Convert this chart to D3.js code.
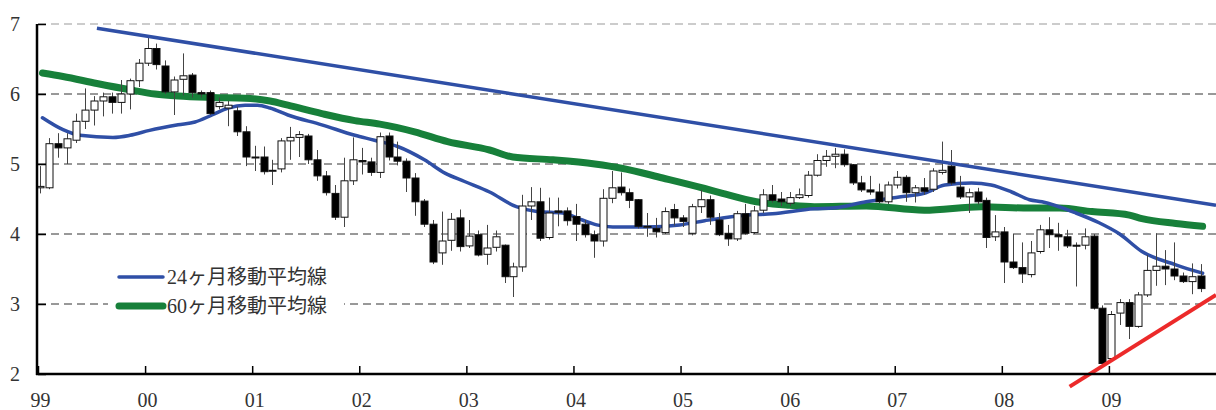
<!DOCTYPE html>
<html>
<head>
<meta charset="utf-8">
<script src="https://cdn.jsdelivr.net/npm/d3@7"></script>
<style>
  body { margin: 0; background: #fff; }
  svg { display: block; }
  text { font-family: "Liberation Serif", "Noto Sans CJK JP", serif; fill: #333; }
</style>
</head>
<body>
<div id="container"></div>
<script>
// monthly candles, Jan 1999 .. Nov 2009
var opens = [4.66,4.66,5.29,5.23,5.34,5.61,5.77,5.90,5.96,5.88,6.00,6.19,6.44,6.65,6.40,6.03,6.21,6.27,6.02,6.02,
  5.82,5.80,5.76,5.46,5.10,5.10,4.90,4.93,5.33,5.38,5.40,5.06,4.83,4.58,4.24,4.76,5.05,5.03,4.88,5.40,
  5.10,5.04,4.80,4.47,4.14,3.73,3.91,4.23,3.83,3.99,3.71,3.81,3.84,3.39,3.53,4.40,4.46,3.95,4.33,4.33,
  4.25,4.14,3.99,3.90,4.51,4.67,4.59,4.49,4.10,4.08,4.02,4.35,4.23,4.01,4.39,4.49,4.20,4.01,3.93,4.29,
  4.02,4.34,4.56,4.50,4.44,4.52,4.55,4.84,5.05,5.11,5.14,4.99,4.73,4.63,4.60,4.46,4.70,4.81,4.59,4.66,
  4.64,4.88,4.97,4.67,4.53,4.60,4.48,3.96,4.03,3.60,3.52,3.42,3.75,4.06,3.99,3.96,3.84,3.84,3.97,2.94,
  2.22,2.87,3.02,2.68,3.13,3.48,3.54,3.50,3.40,3.32,3.40];
var highs = [4.97,5.37,5.44,5.44,5.72,6.08,5.97,6.02,6.02,6.20,6.22,6.50,6.80,6.72,6.48,6.25,6.58,6.30,6.05,6.05,
  5.95,5.90,5.82,5.54,5.26,5.25,5.06,5.37,5.53,5.47,5.43,5.20,4.90,4.70,5.09,5.38,5.23,5.09,5.45,5.45,
  5.32,5.08,4.87,4.50,4.20,4.32,4.30,4.35,4.20,4.05,4.13,4.05,3.85,3.59,4.56,4.67,4.66,4.52,4.52,4.38,
  4.43,4.20,4.05,4.64,4.90,4.88,4.65,4.50,4.30,4.23,4.38,4.43,4.27,4.43,4.63,4.55,4.30,4.13,4.33,4.43,
  4.40,4.64,4.70,4.60,4.60,4.65,4.90,5.14,5.20,5.23,5.21,5.00,4.83,4.83,4.72,4.75,4.90,4.84,4.70,4.80,
  4.94,5.32,5.20,4.83,4.65,4.66,4.52,4.27,4.10,4.00,3.88,3.90,4.13,4.24,4.16,4.06,3.88,4.08,4.00,2.98,
  2.90,3.07,3.07,3.17,3.70,4.01,3.77,3.88,3.45,3.58,3.57];
var lows = [4.58,4.64,5.09,5.00,5.30,5.50,5.55,5.68,5.72,5.72,5.78,6.10,6.40,6.35,6.00,5.70,5.98,5.95,5.95,5.70,
  5.78,5.54,5.40,4.97,4.90,4.85,4.70,4.88,5.06,5.10,5.00,4.76,4.55,4.20,4.10,4.70,4.85,4.83,4.80,5.05,
  4.98,4.60,4.26,4.10,3.57,3.56,3.76,3.75,3.80,3.68,3.56,3.75,3.30,3.10,3.46,4.20,3.90,3.92,4.11,4.12,
  3.90,3.95,3.66,3.82,4.44,4.55,4.37,4.08,3.96,3.95,4.00,4.12,4.10,3.98,4.30,4.13,3.97,3.83,3.90,3.99,
  4.00,4.30,4.45,4.40,4.40,4.50,4.52,4.82,4.96,4.94,4.96,4.70,4.60,4.56,4.44,4.43,4.65,4.46,4.45,4.56,
  4.60,4.85,4.70,4.50,4.30,4.42,3.80,3.90,3.30,3.50,3.30,3.38,3.72,3.80,3.76,3.80,3.25,3.78,2.92,2.10,
  2.20,2.70,2.50,2.66,3.10,3.26,3.27,3.34,3.30,3.14,3.17];
var closes = [4.68,5.29,5.23,5.36,5.61,5.77,5.90,5.96,5.88,6.00,6.19,6.44,6.65,6.42,6.03,6.20,6.26,6.02,6.00,5.72,
  5.88,5.84,5.46,5.10,5.09,4.89,4.91,5.33,5.38,5.42,5.06,4.83,4.59,4.24,4.76,5.06,5.03,4.88,5.39,5.10,
  5.04,4.80,4.46,4.14,3.60,3.90,4.21,3.82,3.97,3.70,3.80,3.96,3.39,3.53,4.40,4.46,3.94,4.30,4.31,4.19,
  4.14,3.99,3.90,4.51,4.66,4.59,4.48,4.11,4.11,4.03,4.32,4.23,4.18,4.39,4.49,4.24,3.99,3.93,4.29,4.01,
  4.33,4.56,4.48,4.46,4.52,4.56,4.84,5.05,5.11,5.14,4.99,4.73,4.63,4.60,4.46,4.70,4.81,4.59,4.66,4.61,
  4.90,4.91,4.73,4.53,4.59,4.46,3.95,4.03,3.60,3.52,3.43,3.73,4.06,3.99,3.96,3.83,3.83,3.96,2.94,2.15,
  2.85,3.02,2.68,3.13,3.48,3.54,3.50,3.40,3.32,3.39,3.22];

// moving averages (month index, value)
var ma24Month = [0,2.3,4.2,7.9,9.8,12,15.2,17.1,19,20.8,22.7,24.1,25.5,27.5,31.3,35,37.2,39.8,42.8,45.1,47.3,50.1,53.1,55.4,58.3,60.5,62.1,63.9,67.7,71.4,74.2,76.2,78.1,81.8,86.5,88.5,92.3,96,98.8,101.1,104.1,106.3,108.6,110.6,112,115.8,118.4,120.7,123.2,127,130];
var ma24Value = [5.66,5.49,5.41,5.38,5.41,5.48,5.56,5.60,5.70,5.80,5.84,5.84,5.80,5.70,5.56,5.41,5.34,5.25,5.06,4.87,4.75,4.60,4.39,4.32,4.30,4.20,4.13,4.10,4.10,4.13,4.19,4.23,4.26,4.29,4.36,4.37,4.46,4.53,4.58,4.70,4.73,4.70,4.60,4.49,4.46,4.30,4.16,4.00,3.75,3.56,3.44];
var ma60Month = [0,2.3,6.1,9.8,12.6,15.2,19,22.7,25.5,27.5,31.3,35,37.8,41.7,45.4,50.1,52.7,57.2,61.9,64.9,69.5,74.2,76.2,80,83.7,86.5,92.3,98.8,105.2,110.6,114,117.6,121.8,123.2,127,130];
var ma60Value = [6.30,6.25,6.15,6.06,6.00,5.97,5.95,5.94,5.90,5.84,5.72,5.62,5.57,5.46,5.32,5.20,5.10,5.06,5.00,4.94,4.80,4.65,4.58,4.46,4.41,4.39,4.40,4.34,4.39,4.37,4.37,4.32,4.27,4.22,4.15,4.11];

// trend lines (month position, value)
var topTrendMonth = [6.6, 132];
var topTrendValue = [6.94, 4.41];
var lowTrendMonth = [115.6, 132];
var lowTrendValue = [1.82, 3.13];

var yearLabels = ["99","00","01","02","03","04","05","06","07","08","09"];
var yTicks = [2,3,4,5,6,7];
var legendNames = ["24ヶ月移動平均線", "60ヶ月移動平均線"];

var width = 1216, height = 410;
var margin = { top: 24, right: 0, bottom: 36, left: 38 };

var svg = d3.select("#container").append("svg")
    .attr("width", width)
    .attr("height", height);

svg.append("rect").attr("width", width).attr("height", height).attr("fill", "#fff");

var x = d3.scaleLinear().domain([0, 132]).range([margin.left, width - margin.right]);
var y = d3.scaleLinear().domain([2, 7]).range([height - margin.bottom, margin.top]);

// grid
svg.append("g")
    .selectAll("line")
    .data(yTicks.filter(function (d) { return d > 2; }))
    .enter().append("line")
    .attr("x1", margin.left).attr("x2", width)
    .attr("y1", function (d) { return y(d); })
    .attr("y2", function (d) { return y(d); })
    .attr("stroke", function (d) { return d == 7 ? "#999" : "#333"; })
    .attr("stroke-width", 1)
    .attr("stroke-dasharray", "8,5");

// moving averages
var line = d3.line()
    .x(function (d) { return x(d[0] + 0.5); })
    .y(function (d) { return y(d[1]); })
    .curve(d3.curveMonotoneX);

svg.append("path")
    .datum(d3.zip(ma60Month, ma60Value))
    .attr("d", line)
    .attr("fill", "none")
    .attr("stroke", "#17803a")
    .attr("stroke-width", 7)
    .attr("stroke-linecap", "round");

svg.append("path")
    .datum(d3.zip(ma24Month, ma24Value))
    .attr("d", line)
    .attr("fill", "none")
    .attr("stroke", "#2f4fa6")
    .attr("stroke-width", 3.5)
    .attr("stroke-linecap", "round");

// candles
var candles = d3.range(opens.length).map(function (i) {
    return { i: i, o: opens[i], h: highs[i], l: lows[i], c: closes[i] };
});
var bodyW = 7;
var g = svg.append("g").selectAll("g").data(candles).enter().append("g");

g.append("line")
    .attr("x1", function (d) { return Math.round(x(d.i + 0.5)) - 1.5; })
    .attr("x2", function (d) { return Math.round(x(d.i + 0.5)) - 1.5; })
    .attr("y1", function (d) { return y(d.h); })
    .attr("y2", function (d) { return y(d.l); })
    .attr("stroke", "#444")
    .attr("stroke-width", 1);

g.append("rect")
    .attr("x", function (d) { return Math.round(x(d.i + 0.5)) - 1.5 - bodyW / 2; })
    .attr("width", bodyW)
    .attr("y", function (d) { return y(Math.max(d.o, d.c)); })
    .attr("height", function (d) { return Math.max(1, Math.abs(y(d.o) - y(d.c))); })
    .attr("fill", function (d) { return d.c < d.o ? "#000" : "#fff"; })
    .attr("stroke", "#111")
    .attr("stroke-width", 1);

// trend lines
var tline = d3.line()
    .x(function (d) { return x(d[0]); })
    .y(function (d) { return y(d[1]); });

svg.append("path")
    .datum(d3.zip(topTrendMonth, topTrendValue))
    .attr("d", tline)
    .attr("stroke", "#2f4fa6")
    .attr("stroke-width", 3.5)
    .attr("fill", "none");

svg.append("path")
    .datum(d3.zip(lowTrendMonth, lowTrendValue))
    .attr("d", tline)
    .attr("stroke", "#ec2a2a")
    .attr("stroke-width", 4)
    .attr("fill", "none");

// axes
var xAxis = d3.axisBottom(x)
    .tickValues(d3.range(0, 132, 12))
    .tickSize(-8)
    .tickPadding(19)
    .tickFormat(function (d, i) { return yearLabels[i]; });

var gx = svg.append("g")
    .attr("transform", "translate(0," + y(2) + ")")
    .call(xAxis);
gx.select(".domain").remove();
gx.selectAll("line").attr("stroke", "#000").attr("stroke-width", 1.5);
gx.selectAll("text").style("font-size", "20px").attr("x", 2);

var yAxis = d3.axisLeft(y)
    .tickValues(yTicks)
    .tickSize(-8)
    .tickPadding(18)
    .tickFormat(d3.format("d"));

var gy = svg.append("g")
    .attr("transform", "translate(" + margin.left + ",0)")
    .call(yAxis);
gy.select(".domain").remove();
gy.selectAll("line").attr("stroke", "#000").attr("stroke-width", 1.5);
gy.selectAll("text").style("font-size", "20px");

svg.append("line")
    .attr("x1", margin.left - 1).attr("x2", margin.left - 1)
    .attr("y1", y(7)).attr("y2", y(2) + 1)
    .attr("stroke", "#000").attr("stroke-width", 2.5);
svg.append("line")
    .attr("x1", margin.left - 2).attr("x2", width)
    .attr("y1", y(2)).attr("y2", y(2))
    .attr("stroke", "#000").attr("stroke-width", 2.5);

// legend
var legend = svg.append("g");
legend.append("rect")
    .attr("x", 108).attr("y", 262).attr("width", 236).attr("height", 58)
    .attr("fill", "#fff");

var legendColors = ["#2f4fa6", "#17803a"];
var legendWidths = [3.5, 7];
legendNames.forEach(function (name, i) {
    var ly = 277 + i * 29;
    legend.append("line")
        .attr("x1", 119).attr("x2", 163)
        .attr("y1", ly).attr("y2", ly)
        .attr("stroke", legendColors[i])
        .attr("stroke-width", legendWidths[i])
        .attr("stroke-linecap", "round");
    legend.append("text")
        .attr("x", 167).attr("y", ly + 7)
        .style("font-size", "20px")
        .text(name);
});
</script>
</body>
</html>
